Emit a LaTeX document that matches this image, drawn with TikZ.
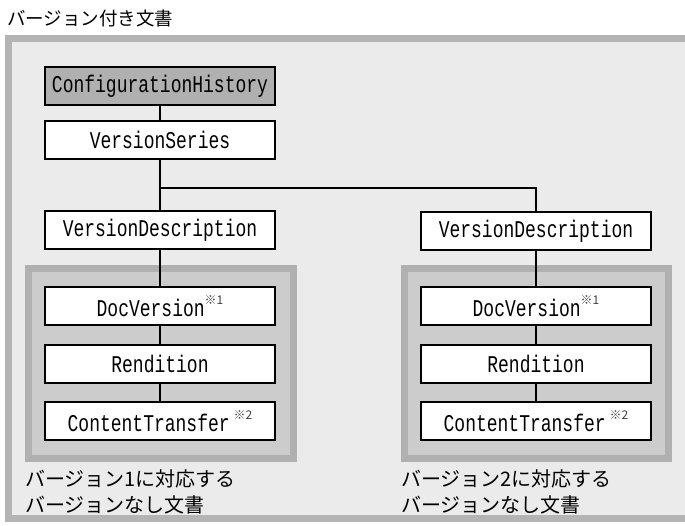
\documentclass[tikz,border=0pt]{standalone}
\usepackage{fontspec}
\usetikzlibrary{positioning}
\newfontfamily\jpfont{Noto Sans CJK JP}
\newfontfamily\monofont[FakeStretch=0.75]{Liberation Mono}
\definecolor{PaperGray}{HTML}{EBEBEB}
\definecolor{FrameGray}{HTML}{B4B4B4}
\definecolor{GroupGray}{HTML}{CCCCCC}
\definecolor{GroupEdge}{HTML}{B0B0B0}
\definecolor{HeadGray}{HTML}{B0B0B0}
\newcommand{\refmark}[1]{\raisebox{0.9ex}{\jpfont\fontsize{12}{12}\selectfont\color{black!75}※#1}}
\tikzset{
  classbox/.style={draw=black, line width=1.5pt, fill=white, minimum width=230pt, minimum height=38pt, inner sep=0pt, font=\monofont\fontsize{24}{24}\selectfont},
  headbox/.style={classbox, fill=HeadGray},
  groupbox/.style={draw=GroupEdge, line width=7pt, fill=GroupGray},
  link/.style={draw=black, line width=1.5pt},
  jplabel/.style={inner sep=0pt, align=left, font=\jpfont\fontsize{20}{26}\selectfont}
}
\begin{document}
\begin{tikzpicture}[x=1pt, y=-1pt]
\useasboundingbox (0,0) rectangle (685,525);
% outer frame
\fill[PaperGray] (8.5,38.5) rectangle (690,518.5);
\draw[FrameGray, line width=7pt] (690,38.5) -- (8.5,38.5) -- (8.5,518.5) -- (690,518.5);
\node[jplabel, font=\jpfont\fontsize{18.5}{18.5}\selectfont, anchor=west] (title) at (7,18) {バージョン付き文書};
% groups
\draw[groupbox] (28.5,268.5) rectangle (293.5,458.5);
\draw[groupbox] (404.5,268.5) rectangle (668.5,458.5);
% nodes
\node[headbox] (hist) at (160,86) {ConfigurationHistory};
\node[classbox] (series) at (160,140) {VersionSeries};
\node[classbox] (descL) at (160,230) {VersionDescription};
\node[classbox] (descR) at (536,231) {VersionDescription};
\node[classbox] (docL) at (160,306) {DocVersion\refmark{1}};
\node[classbox] (rendL) at (160,364) {Rendition};
\node[classbox] (xferL) at (160,421) {ContentTransfer\,\refmark{2}};
\node[classbox] (docR) at (536,306) {DocVersion\refmark{1}};
\node[classbox] (rendR) at (536,364) {Rendition};
\node[classbox] (xferR) at (536,421) {ContentTransfer\,\refmark{2}};
\coordinate (split) at (160,188);
% links
\draw[link] (hist) -- (series);
\draw[link] (series) -- (descL);
\draw[link] (split) -| (descR.north);
\draw[link] (descL) -- (docL);
\draw[link] (docL) -- (rendL);
\draw[link] (rendL) -- (xferL);
\draw[link] (descR) -- (docR);
\draw[link] (docR) -- (rendR);
\draw[link] (rendR) -- (xferR);
% captions
\node[jplabel, anchor=north west] (capL) at (25,469) {バージョン1に対応する\\バージョンなし文書};
\node[jplabel, anchor=north west] (capR) at (401,469) {バージョン2に対応する\\バージョンなし文書};
\end{tikzpicture}
\end{document}
